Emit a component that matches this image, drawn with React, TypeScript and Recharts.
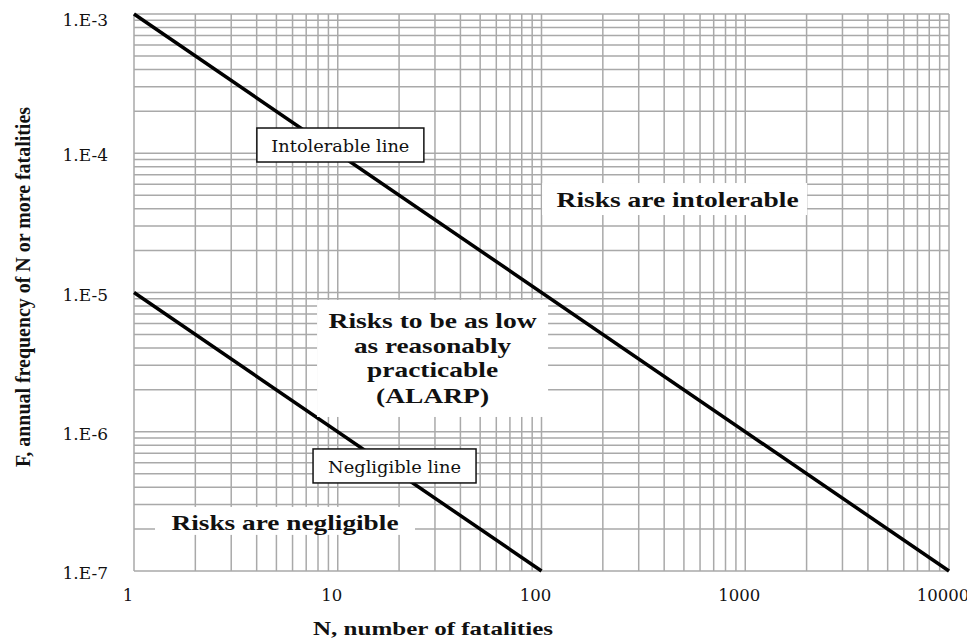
import React from 'react';
import {
  LineChart,
  Line,
  XAxis,
  YAxis,
  ReferenceLine,
  ReferenceDot,
} from 'recharts';

// F-N criterion lines (log-log)
const intolerableN = [1, 10000];
const intolerableF = [1e-3, 1e-7];
const negligibleN = [1, 100];
const negligibleF = [1e-5, 1e-7];

const xTicks = [1, 10, 100, 1000, 10000];
const yTicks = [1e-7, 1e-6, 1e-5, 1e-4, 1e-3];
const gridSteps = [1, 2, 3, 4, 5, 6, 7, 8, 9];

const intolerableData = intolerableN.map((n, i) => ({ n, f: intolerableF[i] }));
const negligibleData = negligibleN.map((n, i) => ({ n, f: negligibleF[i] }));

// grid lines at every 1..9 step of each decade
const gridX = xTicks.flatMap((d, i) => (i < xTicks.length - 1 ? gridSteps.map((s) => d * s) : [d]));
const gridY = yTicks.flatMap((d, i) => (i < yTicks.length - 1 ? gridSteps.map((s) => d * s) : [d]));

// annotation texts anchored at data coordinates
const boxedLabels = [
  { text: 'Intolerable line', n: 10.3, f: 1.146e-4 },
  { text: 'Negligible line', n: 19.0, f: 5.68e-7 },
];
const regionLabels = [
  { lines: ['Risks are intolerable'], n: 450, f: 4.69e-5 },
  { lines: ['Risks to be as low', 'as reasonably', 'practicable', '(ALARP)'], n: 29.2, f: 3.36e-6 },
  { lines: ['Risks are negligible'], n: 5.51, f: 2.29e-7 },
];

// layout of the annotation boxes (pixels)
const boxedStyle = [
  { w: 167, h: 34, tw: 138, dy: 7 },
  { w: 163, h: 34, tw: 133, dy: 7 },
];
const regionStyle = [
  { w: 265, h: 32, dx: 3, tws: [242], dys: [8] },
  { w: 231, h: 117, dx: 0, tws: [208, 157, 131, 113], dys: [-30.5, -5.5, 18.5, 44.5] },
  { w: 260, h: 28, dx: 0, tws: [227], dys: [9] },
];

const GRID = '#a9a9a9';
const SERIF = '"DejaVu Serif", serif';
const BOLD_SERIF = '"Liberation Serif", "Times New Roman", serif';

const BoxedLabel = (props: any) => {
  const { cx, cy, text, w, h, tw, dy } = props;
  return (
    <g>
      <rect x={cx - w / 2} y={cy - h / 2} width={w} height={h} fill="#fff" stroke="#111" strokeWidth={1.5} />
      <text
        x={cx}
        y={cy + dy}
        textAnchor="middle"
        fontFamily={SERIF}
        fontSize={16.5}
        fill="#111"
        textLength={tw}
        lengthAdjust="spacingAndGlyphs"
      >
        {text}
      </text>
    </g>
  );
};

const RegionLabel = (props: any) => {
  const { cx, cy, lines, w, h, dx, tws, dys } = props;
  return (
    <g>
      <rect x={cx - w / 2} y={cy - h / 2} width={w} height={h} fill="#fff" />
      {lines.map((line: string, i: number) => (
        <text
          key={i}
          x={cx + dx}
          y={cy + dys[i]}
          textAnchor="middle"
          fontFamily={BOLD_SERIF}
          fontWeight="bold"
          fontSize={21}
          fill="#111"
          textLength={tws[i]}
          lengthAdjust="spacingAndGlyphs"
        >
          {line}
        </text>
      ))}
    </g>
  );
};

const XTitle = (props: any) => {
  const { x, y, width, height } = props.viewBox;
  return (
    <text
      x={x + width / 2 - 108.5}
      y={y + height - 8}
      textAnchor="middle"
      fontFamily={BOLD_SERIF}
      fontWeight="bold"
      fontSize={19}
      fill="#111"
      textLength={240}
      lengthAdjust="spacingAndGlyphs"
    >
      N, number of fatalities
    </text>
  );
};

const YTitle = (props: any) => {
  const { y, height } = props.viewBox;
  const cx = 14.5;
  const cy = y + height / 2 - 5.5;
  return (
    <text
      x={cx}
      y={cy}
      transform={`rotate(-90, ${cx}, ${cy})`}
      textAnchor="middle"
      dominantBaseline="central"
      fontFamily={BOLD_SERIF}
      fontWeight="bold"
      fontSize={20}
      fill="#111"
      textLength={360}
      lengthAdjust="spacingAndGlyphs"
    >
      F, annual frequency of N or more fatalities
    </text>
  );
};

const App: React.FC = () => {
  return (
    <div style={{ width: 959, height: 635, background: '#fff' }}>
      <LineChart
        width={967}
        height={635}
        margin={{ top: 6, right: 26, left: 0, bottom: 0 }}
        style={{ overflow: 'visible' }}
      >
        <XAxis
          type="number"
          dataKey="n"
          scale="log"
          domain={[1, 10000]}
          ticks={xTicks}
          tickFormatter={(v: number) => String(v)}
          axisLine={false}
          tickLine={false}
          tickSize={0}
          tickMargin={18}
          height={72}
          tick={{ fill: '#111', fontSize: 16.5, fontFamily: SERIF, dx: -6 }}
          label={{ content: (p: any) => <XTitle {...p} /> }}
        />
        <YAxis
          type="number"
          dataKey="f"
          scale="log"
          domain={[1e-7, 1e-3]}
          ticks={yTicks}
          tickFormatter={(v: number) => `1.E${Math.round(Math.log10(v))}`}
          axisLine={false}
          tickLine={false}
          tickSize={0}
          tickMargin={26}
          width={126}
          tick={{ fill: '#111', fontSize: 17, fontFamily: SERIF, dy: 2 }}
          label={{ content: (p: any) => <YTitle {...p} /> }}
        />

        {gridX.map((v) => (
          <ReferenceLine key={`gx${v}`} x={v} stroke={GRID} strokeWidth={1.5} ifOverflow="visible" zIndex={100} />
        ))}
        {gridY.map((v) => (
          <ReferenceLine key={`gy${v}`} y={v} stroke={GRID} strokeWidth={1.5} ifOverflow="visible" zIndex={100} />
        ))}

        <Line
          data={intolerableData}
          dataKey="f"
          stroke="#000"
          strokeWidth={3.5}
          dot={false}
          isAnimationActive={false}
          zIndex={400}
        />
        <Line
          data={negligibleData}
          dataKey="f"
          stroke="#000"
          strokeWidth={3.5}
          dot={false}
          isAnimationActive={false}
          zIndex={400}
        />

        {regionLabels.map((l, i) => (
          <ReferenceDot
            key={`r${i}`}
            x={l.n}
            y={l.f}
            ifOverflow="visible"
            zIndex={1500}
            shape={(p: any) => <RegionLabel {...p} lines={l.lines} {...regionStyle[i]} />}
          />
        ))}
        {boxedLabels.map((l, i) => (
          <ReferenceDot
            key={`b${i}`}
            x={l.n}
            y={l.f}
            ifOverflow="visible"
            zIndex={1500}
            shape={(p: any) => <BoxedLabel {...p} text={l.text} {...boxedStyle[i]} />}
          />
        ))}
      </LineChart>
    </div>
  );
};

export default App;
